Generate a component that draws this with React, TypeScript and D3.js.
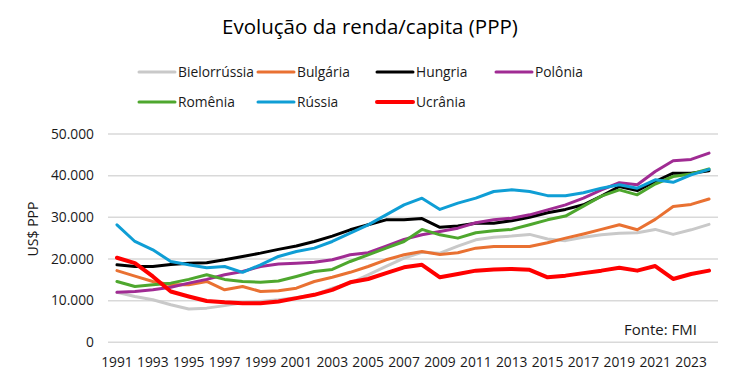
import React from "react";
import * as d3 from "d3";

const years: number[] = d3.range(1991, 2025);
const tickYears: number[] = d3.range(1991, 2024, 2);
const yTicks: number[] = [0, 10000, 20000, 30000, 40000, 50000];

const belarus = [12.0, 11.0, 10.2, 9.0, 8.0, 8.2, 8.8, 9.5, 9.8, 10.2, 10.7, 11.4, 13.0, 14.2, 16.2, 18.2, 20.2, 21.6, 21.4, 23.1, 24.6, 25.2, 25.5, 25.9, 24.8, 24.4, 25.2, 25.8, 26.2, 26.3, 27.1, 25.9, 27.0, 28.3];
const bulgaria = [17.2, 15.9, 14.6, 13.8, 13.8, 14.6, 12.6, 13.4, 12.2, 12.4, 13.0, 14.6, 15.6, 16.8, 18.2, 19.8, 21.0, 21.8, 21.1, 21.5, 22.6, 23.0, 23.0, 23.0, 23.9, 25.0, 26.0, 27.1, 28.2, 27.0, 29.5, 32.6, 33.1, 34.4];
const hungary = [18.6, 18.2, 18.2, 18.7, 19.0, 19.1, 19.8, 20.6, 21.4, 22.3, 23.1, 24.2, 25.5, 27.0, 28.2, 29.4, 29.4, 29.7, 27.6, 27.9, 28.6, 28.6, 29.2, 30.0, 31.1, 31.9, 33.0, 35.1, 37.4, 36.4, 38.6, 40.6, 40.6, 41.2];
const poland = [12.0, 12.2, 12.6, 13.2, 14.2, 15.1, 16.2, 17.0, 18.2, 18.8, 19.0, 19.2, 19.8, 21.0, 21.5, 23.1, 24.7, 25.8, 26.6, 27.4, 28.7, 29.4, 29.8, 30.6, 31.8, 33.0, 34.6, 36.6, 38.3, 37.8, 41.0, 43.6, 43.9, 45.4];
const romania = [14.6, 13.4, 13.8, 14.2, 15.1, 16.2, 15.1, 14.6, 14.4, 14.7, 15.8, 17.0, 17.5, 19.4, 21.0, 22.6, 24.2, 27.1, 25.8, 25.0, 26.3, 26.8, 27.1, 28.2, 29.4, 30.3, 32.7, 35.1, 36.6, 35.4, 38.0, 39.8, 40.4, 41.6];
const russia = [28.2, 24.2, 22.2, 19.4, 18.6, 17.9, 18.2, 16.8, 18.6, 20.6, 21.8, 22.6, 24.2, 26.2, 28.2, 30.6, 33.0, 34.6, 31.9, 33.4, 34.6, 36.2, 36.6, 36.2, 35.2, 35.2, 35.9, 37.0, 37.8, 37.0, 39.0, 38.4, 40.2, 41.5];
const ukraine = [20.3, 19.0, 15.8, 12.2, 11.0, 9.9, 9.6, 9.4, 9.4, 9.8, 10.6, 11.4, 12.6, 14.4, 15.2, 16.6, 18.0, 18.6, 15.6, 16.4, 17.2, 17.5, 17.6, 17.4, 15.6, 16.0, 16.6, 17.2, 17.9, 17.2, 18.3, 15.2, 16.4, 17.2];

const seriesNames = ["Bielorrússia", "Bulgária", "Hungria", "Polônia", "Romênia", "Rússia", "Ucrânia"];
const seriesValues = [belarus, bulgaria, hungary, poland, romania, russia, ukraine];
const seriesColors = ["#c9c9c9", "#e97132", "#000000", "#a02b93", "#4ea72e", "#0f9ed5", "#ff0000"];
const seriesWidths = [3, 3, 3, 3, 3, 3, 4];

const FONT = "'Open Sans', 'Noto Sans', sans-serif";

export default function App() {
  const W = 744, H = 384;
  const plot = { left: 108, right: 718, top: 134, bottom: 342.3 };

  const x = d3.scaleBand<number>().domain(years).range([plot.left, plot.right]).padding(0);
  const cx = (yr: number) => (x(yr) as number) + x.bandwidth() / 2;
  const y = d3.scaleLinear().domain([0, 50000]).range([plot.bottom, plot.top]);
  const fmt = (v: number) => (v === 0 ? "0" : d3.format(",")(v).replace(/,/g, "."));

  const line = d3
    .line<number>()
    .x((_, i) => cx(years[i]))
    .y((v) => y(v * 1000));

  const legendPos = [
    [139, 72], [258, 72], [377, 72], [496, 72],
    [139, 102], [258, 102], [377, 102],
  ];

  return (
    <svg width={W} height={H} style={{ position: "absolute", left: 0, top: 0, background: "#fff" }} fontFamily={FONT}>
      <rect width={W} height={H} fill="#fff" />
      <text x={370} y={34} textAnchor="middle" fontSize={20.5} fill="#000">
        Evolução da renda/capita (PPP)
      </text>

      {seriesNames.map((name, i) => (
        <g key={name} transform={`translate(${legendPos[i][0]},${legendPos[i][1]})`}>
          <line x1={0} x2={36} y1={0} y2={0} stroke={seriesColors[i]} strokeWidth={seriesWidths[i]} strokeLinecap="round" />
          <text x={39} y={0} dy="0.35em" fontSize={13.8} fill="#1a1a1a">{name}</text>
        </g>
      ))}

      {yTicks.map((t) => (
        <g key={t}>
          <line x1={plot.left} x2={plot.right} y1={y(t)} y2={y(t)} stroke="#d9d9d9" strokeWidth={1.5} />
          <text x={94} y={y(t)} dy="0.35em" textAnchor="end" fontSize={13.8} fill="#1a1a1a">{fmt(t)}</text>
        </g>
      ))}

      {tickYears.map((yr) => (
        <text key={yr} x={cx(yr)} y={362} dy="0.35em" textAnchor="middle" fontSize={13.8} fill="#1a1a1a">{yr}</text>
      ))}

      <text transform={`translate(33,229) rotate(-90)`} textAnchor="middle" dy="0.35em" fontSize={14} fill="#1a1a1a">US$ PPP</text>

      {seriesValues.map((vals, i) => (
        <path key={seriesNames[i]} d={line(vals) || ""} fill="none" stroke={seriesColors[i]} strokeWidth={seriesWidths[i]} strokeLinejoin="round" strokeLinecap="round" />
      ))}

      <text x={697} y={335} textAnchor="end" fontSize={15} fill="#1a1a1a">Fonte: FMI</text>
    </svg>
  );
}
